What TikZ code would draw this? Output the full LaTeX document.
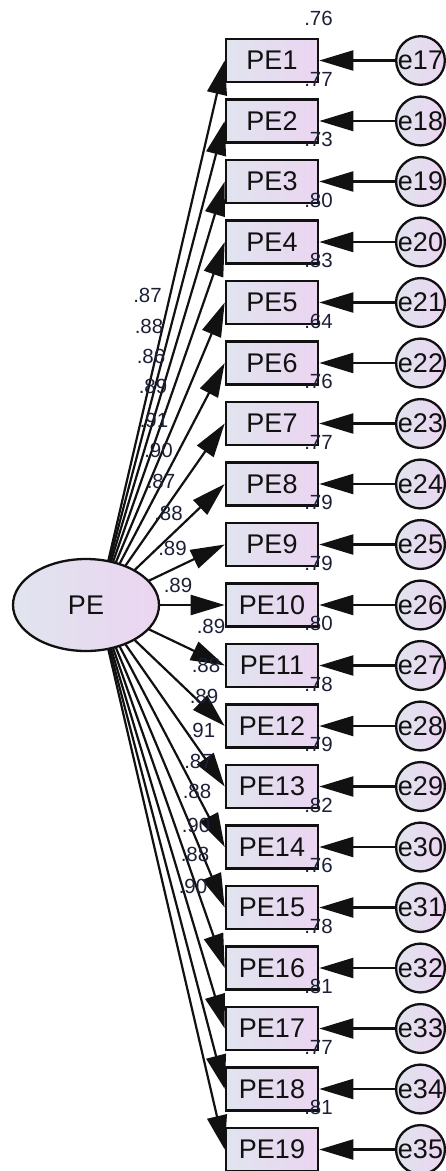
\documentclass[tikz,border=0pt]{standalone}
\usepackage{fontspec}
\setmainfont{Liberation Sans}
\usetikzlibrary{arrows.meta,backgrounds,shapes.geometric}
\definecolor{shadeL}{HTML}{E0E4EE}
\definecolor{shadeR}{HTML}{EBD5F1}
\definecolor{ink}{HTML}{111111}
\definecolor{numink}{HTML}{1C2036}
\begin{document}
\begin{tikzpicture}[x=1pt,y=-1pt,
  obs/.style={draw=ink,line width=2.6pt,left color=shadeL,right color=shadeR,
    minimum width=92pt,minimum height=43pt,inner sep=0pt,
    font=\fontsize{27}{30}\selectfont,text=ink},
  err/.style={circle,draw=ink,line width=2.3pt,left color=shadeL,right color=shadeR,
    minimum size=43pt,inner sep=0pt,font=\fontsize{27}{30}\selectfont,text=ink},
  lat/.style={ellipse,draw=ink,line width=2.3pt,left color=shadeL,right color=shadeR,
    minimum width=146pt,minimum height=92pt,inner sep=0pt,
    font=\fontsize{27}{30}\selectfont,text=ink},
  arr/.style={draw=ink,line width=2.2pt,-{Triangle[length=34pt,width=20pt]}},
  coef/.style={font=\fontsize{20.5}{22}\selectfont,text=numink,inner sep=0pt}
]
\useasboundingbox (0,0) rectangle (446,1171);

% latent factor
\node[lat] (PE) at (86,605) {PE};
\coordinate (aim) at (98,605);

% indicators, error terms, R^2 and loadings
\foreach \i/\r/\lx/\ly/\lam in {
  1/.76/147.5/295.5/.87, 2/.77/149/326.5/.88, 3/.73/151/356.5/.86,
  4/.80/153/386.5/.89, 5/.83/154/420/.91, 6/.64/158.5/450/.90,
  7/.76/161/481.5/.87, 8/.77/168.5/513.5/.88, 9/.79/172.5/548.5/.89,
  10/.79/178/585.5/.89, 11/.80/211/626/.89, 12/.78/206/665/.88,
  13/.79/204/696/.89, 14/.82/201/730.5/.91, 15/.76/198.5/761/.87,
  16/.78/197/791/.88, 17/.81/196/825/.90, 18/.77/195/854/.88,
  19/.81/193/886/.90}{
  \pgfmathsetmacro\yy{60.5*\i}
  \pgfmathtruncatemacro\n{\i+16}
  \node[obs] (PE\i) at (272,\yy) {PE\i};
  \node[err] (e\i) at (420.5,\yy) {e\n};
  \draw[arr] (e\i) -- (PE\i);
  \node[coef] (r\i) at (318.5,{\yy-42}) {\r};
  \node[coef] (l\i) at (\lx,\ly) {\lam};
  \begin{scope}[on background layer]
    \draw[arr] (aim) -- (PE\i.west);
  \end{scope}
}
\end{tikzpicture}
\end{document}
